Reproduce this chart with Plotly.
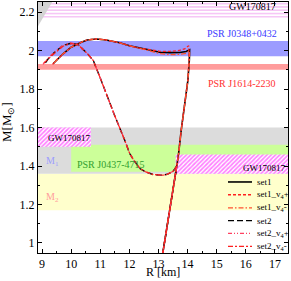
import plotly.graph_objects as go

# ---------------- data ----------------
set1_R = [13.14, 13.35, 13.53, 13.68, 13.78, 13.90, 14.01, 14.06, 14.07, 13.95, 13.73, 13.40, 13.04, 12.70, 12.36, 12.00, 11.67, 11.20, 10.86, 10.55, 10.35, 10.00, 9.72, 9.50, 9.38]
set1_M = [0.94, 1.13, 1.30, 1.45, 1.585, 1.72, 1.845, 1.95, 2.004, 1.995, 1.990, 1.989, 1.991, 2.003, 2.012, 2.025, 2.040, 2.055, 2.060, 2.055, 2.043, 2.017, 1.983, 1.952, 1.931]

set1_vp_R = [13.14, 13.35, 13.53, 13.68, 13.78, 13.90, 14.01, 14.05, 14.04, 13.90, 13.70, 13.40, 13.04, 12.70, 12.36, 12.00, 11.67, 11.20, 10.86, 10.55, 10.35, 10.00, 9.72, 9.50, 9.36]
set1_vp_M = [0.94, 1.13, 1.30, 1.45, 1.585, 1.72, 1.845, 1.95, 2.025, 2.008, 2.000, 1.996, 1.996, 2.004, 2.012, 2.025, 2.040, 2.055, 2.060, 2.055, 2.043, 2.017, 1.983, 1.952, 1.928]

set1_vm_R = [13.14, 13.35, 13.53, 13.68, 13.78, 13.90, 14.01, 14.06, 14.07, 13.95, 13.73, 13.40, 13.04, 12.70, 12.36, 12.00, 11.67, 11.20, 10.86, 10.55, 10.35, 10.00, 9.72, 9.50, 9.40]
set1_vm_M = [0.94, 1.13, 1.30, 1.45, 1.585, 1.72, 1.845, 1.95, 1.998, 1.985, 1.980, 1.978, 1.984, 1.998, 2.010, 2.024, 2.040, 2.055, 2.060, 2.055, 2.043, 2.017, 1.983, 1.952, 1.934]

set2_R = [13.14, 13.35, 13.53, 13.63, 13.50, 13.30, 13.15, 12.81, 12.55, 12.36, 12.15, 12.01, 11.84, 11.50, 11.03, 10.76, 10.55, 10.40, 10.23, 10.00, 9.72, 9.43, 9.25, 9.09]
set2_M = [0.94, 1.13, 1.30, 1.40, 1.372, 1.357, 1.352, 1.356, 1.370, 1.387, 1.430, 1.465, 1.534, 1.660, 1.845, 1.948, 1.985, 2.005, 2.031, 2.038, 2.026, 1.991, 1.965, 1.931]

set2_vp_R = [13.14, 13.35, 13.53, 13.63, 13.50, 13.30, 13.15, 12.81, 12.55, 12.36, 12.15, 12.01, 11.84, 11.50, 11.03, 10.76, 10.55, 10.40, 10.23, 10.00, 9.72, 9.43, 9.22, 9.03]
set2_vp_M = [0.94, 1.13, 1.30, 1.40, 1.372, 1.357, 1.352, 1.356, 1.370, 1.387, 1.430, 1.465, 1.534, 1.660, 1.845, 1.948, 1.985, 2.005, 2.031, 2.040, 2.028, 1.993, 1.962, 1.928]

set2_vm_R = [13.14, 13.35, 13.53, 13.63, 13.50, 13.30, 13.15, 12.81, 12.55, 12.36, 12.15, 12.01, 11.84, 11.50, 11.03, 10.76, 10.55, 10.40, 10.23, 10.00, 9.72, 9.43, 9.20, 9.06]
set2_vm_M = [0.94, 1.13, 1.30, 1.40, 1.372, 1.357, 1.352, 1.356, 1.370, 1.387, 1.430, 1.465, 1.534, 1.660, 1.845, 1.948, 1.985, 2.005, 2.031, 2.036, 2.022, 1.986, 1.955, 1.935]

series_names = ["set1", "set1_v<sub>4</sub>+", "set1_v<sub>4</sub>-", "set2", "set2_v<sub>4</sub>+", "set2_v<sub>4</sub>-"]

# constraint bands (mass ranges / radius ranges)
gw_upper_M = [2.17, 2.26]
psr0348_M = [1.97, 2.05]
psr1614_M = [1.90, 1.93]
m1_M = [1.36, 1.60]
m2_M = [1.17, 1.36]
psr0437_R = [10.0, 17.5]
psr0437_M = [1.37, 1.51]
gw_left_R = [8.8, 10.68]
gw_left_M = [1.50, 1.60]
gw_right_R = [13.59, 17.5]
gw_right_M = [1.36, 1.46]
causal_R = [8.8, 9.38, 8.8]
causal_M = [2.26, 2.26, 2.11]

x_range = [8.86, 17.45]
y_range = [0.948, 2.252]
x_ticks = [9, 10, 11, 12, 13, 14, 15, 16, 17]
y_ticks = [1.0, 1.2, 1.4, 1.6, 1.8, 2.0, 2.2]

FONT = "Liberation Serif"

fig = go.Figure()

def rect_shape(x0, x1, y0, y1, color):
    return dict(type="rect", xref="x", yref="y", x0=x0, x1=x1, y0=y0, y1=y1,
                fillcolor=color, line=dict(width=0), layer="below")

shapes = [
    rect_shape(x_range[0] - 1, x_range[1] + 1, m2_M[0], m2_M[1], "#ffffcc"),
    rect_shape(x_range[0] - 1, x_range[1] + 1, m1_M[0], m1_M[1], "#dcdcdc"),
    rect_shape(psr0437_R[0], psr0437_R[1] + 1, psr0437_M[0], psr0437_M[1], "#ccff99"),
    rect_shape(x_range[0] - 1, x_range[1] + 1, psr0348_M[0], psr0348_M[1], "#9c9cff"),
    rect_shape(x_range[0] - 1, x_range[1] + 1, psr1614_M[0], psr1614_M[1], "#ff9c9c"),
]

def box(xs, ys):
    return [xs[0], xs[1], xs[1], xs[0], xs[0]], [ys[0], ys[0], ys[1], ys[1], ys[0]]

# upper GW170817 band (horizontal hatch)
bx, by = box([x_range[0] - 1, x_range[1] + 1], gw_upper_M)
fig.add_trace(go.Scatter(x=bx, y=by, fill="toself", mode="lines", line=dict(width=0),
                         fillpattern=dict(shape="-", fgcolor="#e040e0", bgcolor="white",
                                          size=3.3, solidity=0.3),
                         showlegend=False, hoverinfo="skip"))
# causality region
fig.add_trace(go.Scatter(x=causal_R, y=causal_M, fill="toself", mode="lines", line=dict(width=0),
                         fillcolor="#d3d3d3", showlegend=False, hoverinfo="skip"))
# hatched GW170817 regions
for xs, ys in [(gw_left_R, gw_left_M), (gw_right_R, gw_right_M)]:
    bx, by = box(xs, ys)
    fig.add_trace(go.Scatter(x=bx, y=by, fill="toself", mode="lines", line=dict(width=0),
                             fillpattern=dict(shape="/", fgcolor="#ff00ff", bgcolor="white",
                                              size=3, solidity=0.55),
                             showlegend=False, hoverinfo="skip"))

styles = [
    dict(color="black", width=1.6, dash="solid"),
    dict(color="#ff2020", width=1.3, dash="3px,2px"),
    dict(color="#ff5030", width=1.3, dash="5px,2px,1.5px,2px"),
    dict(color="black", width=1.4, dash="6px,3px"),
    dict(color="#ff4060", width=1.2, dash="4px,2px,1px,2px,1px,2px"),
    dict(color="#ff2020", width=1.2, dash="5px,2px,2px,2px"),
]
series = [(set1_R, set1_M), (set1_vp_R, set1_vp_M), (set1_vm_R, set1_vm_M),
          (set2_R, set2_M), (set2_vp_R, set2_vp_M), (set2_vm_R, set2_vm_M)]
draw_order = [0, 3, 1, 2, 4, 5]
for i in draw_order:
    xs, ys = series[i]
    fig.add_trace(go.Scatter(x=xs, y=ys, mode="lines", name=series_names[i],
                             line=styles[i], showlegend=False))

# manual legend (paper coords)
leg_x0, leg_x1, leg_tx = 0.76, 0.856, 0.868
leg_y = [0.283, 0.232, 0.180, 0.129, 0.078, 0.026]
for i, name in enumerate(series_names):
    shapes.append(dict(type="line", xref="paper", yref="paper", x0=leg_x0, x1=leg_x1,
                       y0=leg_y[i], y1=leg_y[i], line=styles[i], layer="above"))

annotations = []
for i, name in enumerate(series_names):
    annotations.append(dict(x=leg_tx, y=leg_y[i], xref="paper", yref="paper", text=name,
                            showarrow=False, xanchor="left", yanchor="middle",
                            font=dict(family=FONT, size=9, color="black")))

labels = [
    ("GW170817", 17.11, 2.231, "right", "black", 10),
    ("PSR J0348+0432", 17.13, 2.089, "right", "#3a3aff", 10),
    ("PSR J1614-2230", 17.09, 1.830, "right", "#ff3030", 10),
    ("PSR J0437-4715", 11.37, 1.410, "center", "#30a030", 10),
    ("M<sub>1</sub>", 9.05, 1.424, "left", "#9c9cff", 10),
    ("M<sub>2</sub>", 9.05, 1.237, "left", "#ff9c9c", 10),
    ("GW170817", 9.91, 1.545, "center", "black", 9),
    ("GW170817", 17.42, 1.391, "right", "black", 9),
]
for t, x, y, anc, col, sz in labels:
    annotations.append(dict(x=x, y=y, xref="x", yref="y", text=t, showarrow=False,
                            xanchor=anc, yanchor="middle",
                            font=dict(family=FONT, size=sz, color=col)))

# axis titles
annotations.append(dict(x=0.5, y=-0.111, xref="paper", yref="paper", text="R [km]",
                        showarrow=False, xanchor="center", yanchor="bottom",
                        font=dict(family=FONT, size=12, color="black")))
annotations.append(dict(x=-0.122, y=0.52, xref="paper", yref="paper", text="M[M<sub>\u2299</sub>]",
                        showarrow=False, xanchor="center", yanchor="middle", textangle=-90,
                        font=dict(family=FONT, size=13, color="black")))

axis_common = dict(showline=True, linecolor="black", linewidth=1, mirror="ticks",
                   ticks="inside", ticklen=4, tickcolor="black", showgrid=False,
                   zeroline=False, automargin=False,
                   tickfont=dict(family=FONT, size=12, color="black"))

fig.update_layout(
    width=291, height=281,
    margin=dict(l=38, r=3, t=2, b=28),
    paper_bgcolor="white", plot_bgcolor="white",
    showlegend=False,
    shapes=shapes, annotations=annotations,
    xaxis=dict(range=x_range, tickvals=x_ticks, ticktext=[str(v) for v in x_ticks],
               minor=dict(dtick=0.5, ticks="inside", ticklen=2, tickcolor="black"),
               **axis_common),
    yaxis=dict(range=y_range, tickvals=y_ticks, ticktext=["1", "1.2", "1.4", "1.6", "1.8", "2", "2.2"],
               minor=dict(dtick=0.1, tick0=0, ticks="inside", ticklen=2, tickcolor="black"),
               **axis_common),
)

fig.write_html("out.html", config={"displayModeBar": False},
               post_script="document.body.style.margin='0';document.body.style.padding='0';")
